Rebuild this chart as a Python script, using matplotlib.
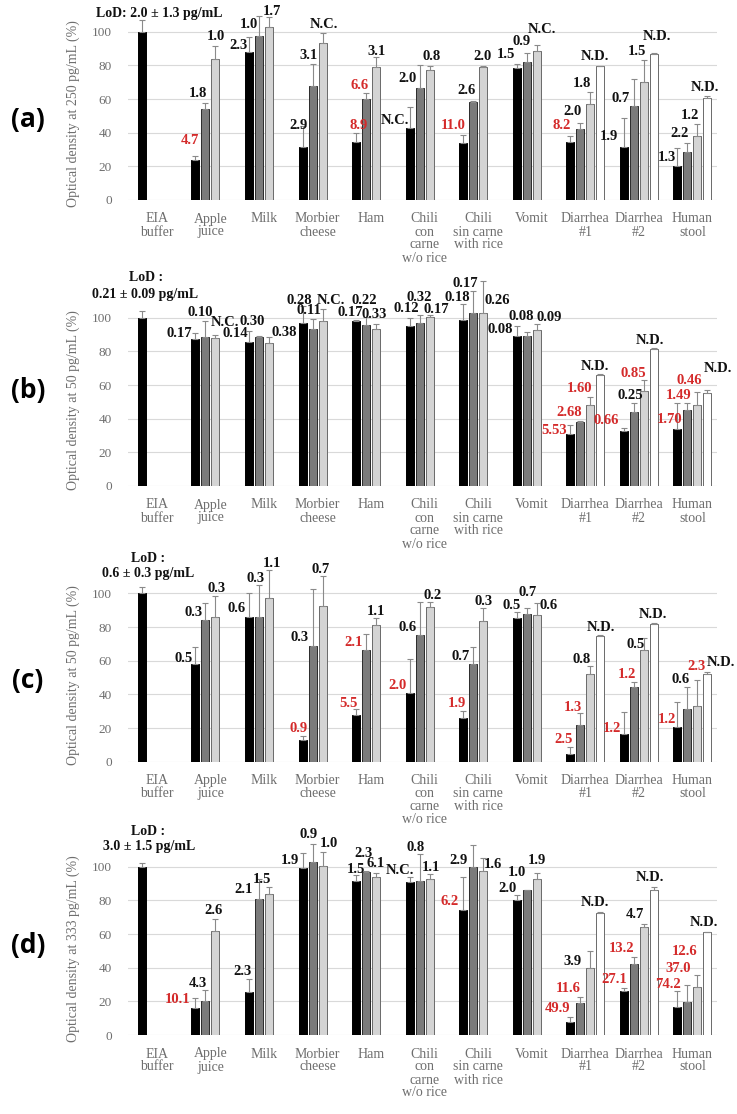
import matplotlib
matplotlib.use('Agg')
import matplotlib.pyplot as plt

W, H = 737, 1114
SERIF = ['Liberation Serif', 'DejaVu Serif']
GREY_TXT = '#6e6e6e'
RED = '#d42a2a'
BLACK = '#111111'

CATEGORIES = ['EIA\nbuffer', 'Apple\njuice', 'Milk', 'Morbier\ncheese', 'Ham',
              'Chili\ncon\ncarne\nw/o rice', 'Chili\nsin carne\nwith rice', 'Vomit',
              'Diarrhea\n#1', 'Diarrhea\n#2', 'Human\nstool']
SERIES_COLORS = ['#000000', '#7b7b7b', '#d4d4d4', '#ffffff']
SERIES_EDGES = ['#000000', '#2a2a2a', '#6a6a6a', '#6a6a6a']

# ---- panel (a): 250 pg/mL ----
A_MEAN = [
    [100, 24, 87.7, 31.7, 34.6, 43, 34, 78.2, 34.7, 31.7, 20.2],
    [None, 54, 97.6, 67.7, 60, 66.7, 58.4, 82.2, 42.2, 55.8, 28.3],
    [None, 84, 102.6, 93.5, 79.2, 77.2, 79.2, 88.5, 56.8, 70.3, 38],
    [None, None, None, None, None, None, None, None, 79.6, 86.7, 60.4],
]
A_ERR = [
    [7, 2, 9.3, 12.3, 5, 12.4, 4.6, 2.8, 3.5, 17.3, 10.8],
    [0, 3.4, 11.9, 13.1, 3.4, 13.3, 0.6, 5.3, 3.8, 15.9, 5.7],
    [0, 7.7, 5.9, 5.9, 5.9, 2.6, 0.3, 3.5, 7.6, 12.9, 7],
    [0, 0, 0, 0, 0, 0, 0, 0, 0.3, 0.4, 1.6],
]
# (category, series, text, red, y, dx)
A_LABELS = [
    (1, 0, '4.7', True, 35.6, -0.1), (1, 1, '1.8', False, 63, -0.14), (1, 2, '1.0', False, 97, 0.0),
    (2, 0, '2.3', False, 92, -0.2), (2, 1, '1.0', False, 104, -0.19), (2, 2, '1.7', False, 112, 0.05),
    (3, 0, '2.9', False, 44, -0.07), (3, 1, '3.1', False, 86, -0.07), (3, 2, 'N.C.', False, 104, 0.02),
    (4, 0, '8.9', True, 44, 0.05), (4, 1, '6.6', True, 68, -0.12), (4, 2, '3.1', False, 88, 0.0),
    (5, 0, 'N.C.', False, 47, -0.28), (5, 1, '2.0', False, 72, -0.22), (5, 2, '0.8', False, 85, 0.04),
    (6, 0, '11.0', True, 44.5, -0.18), (6, 1, '2.6', False, 65, -0.12), (6, 2, '2.0', False, 85, -0.02),
    (7, 0, '1.5', False, 86.5, -0.2), (7, 1, '0.9', False, 94, -0.09), (7, 2, 'N.C.', False, 101.5, 0.09),
    (8, 0, '8.2', True, 44.5, -0.16), (8, 1, '2.0', False, 52.5, -0.15), (8, 2, '1.8', False, 69, -0.15),
    (8, 3, 'N.D.', False, 85, -0.1),
    (9, 0, '1.9', False, 37.6, -0.28), (9, 1, '0.7', False, 60.4, -0.25), (9, 2, '1.5', False, 88, -0.13),
    (9, 3, 'N.D.', False, 97, 0.05),
    (10, 0, '1.3', False, 25, -0.2), (10, 1, '2.2', False, 39.6, -0.15), (10, 2, '1.2', False, 50.5, -0.13),
    (10, 3, 'N.D.', False, 67, -0.04),
]

# ---- panel (b): 50 pg/mL ----
B_MEAN = [
    [100, 87.5, 85.5, 97, 97.8, 94.9, 98.8, 89, 30.8, 32.8, 33.8],
    [None, 88.3, 88.5, 93.5, 95.8, 97, 103, 89, 38.1, 43.7, 45],
    [None, 88, 85, 97.8, 93, 100.4, 103, 92.9, 48.4, 56.3, 48.4],
    [None, None, None, None, None, None, None, None, 66.2, 81.6, 55],
]
B_ERR = [
    [3.8, 3.5, 6.5, 10, 0.6, 4.9, 9.5, 5.9, 5.4, 1.4, 15.6],
    [0, 9.7, 0.6, 5.9, 4.6, 4.8, 12.6, 2.5, 0.6, 5.7, 4.4],
    [0, 1.5, 3.4, 7.2, 3.4, 1.4, 19, 3.3, 4.6, 6.5, 7.6],
    [0, 0, 0, 0, 0, 0, 0, 0, 0.6, 0.6, 2.3],
]
B_LABELS = [
    (1, 0, '0.17', False, 90.5, -0.3), (1, 1, '0.10', False, 103, -0.1), (1, 2, 'N.C.', False, 97, 0.18),
    (2, 0, '0.14', False, 90.5, -0.26), (2, 1, '0.30', False, 97.5, -0.12), (2, 2, '0.38', False, 91.5, 0.29),
    (3, 0, '0.28', False, 110.5, -0.06), (3, 1, '0.11', False, 104, -0.06), (3, 2, 'N.C.', False, 110.5, 0.15),
    (4, 0, '0.17', False, 103, -0.1), (4, 1, '0.22', False, 110.5, -0.03), (4, 2, '0.33', False, 102, -0.03),
    (5, 0, '0.12', False, 105.5, -0.07), (5, 1, '0.32', False, 112, 0.0), (5, 2, '0.17', False, 105, 0.12),
    (6, 0, '0.18', False, 112, -0.11), (6, 1, '0.17', False, 120.5, -0.15), (6, 2, '0.26', False, 110.5, 0.26),
    (7, 0, '0.08', False, 93, -0.31), (7, 1, '0.08', False, 100.5, -0.1), (7, 2, '0.09', False, 100, 0.23),
    (8, 0, '5.53', True, 33, -0.31), (8, 1, '2.68', True, 43.5, -0.21), (8, 2, '1.60', True, 58, -0.21),
    (8, 3, 'N.D.', False, 71, -0.1),
    (9, 0, '0.66', True, 38.7, -0.33), (9, 1, '0.25', False, 53.5, -0.06), (9, 2, '0.85', True, 67, -0.2),
    (9, 3, 'N.D.', False, 86.5, -0.08),
    (10, 0, '1.70', True, 39.5, -0.15), (10, 1, '1.49', True, 54, -0.16), (10, 2, '0.46', True, 62.8, -0.15),
    (10, 3, 'N.D.', False, 69.8, 0.2),
]

# ---- panel (c): 50 pg/mL ----
C_MEAN = [
    [100, 58.3, 86.1, 12.9, 27.8, 40.8, 25.8, 85.1, 4.4, 16.5, 20.9],
    [None, 83.9, 86.1, 68.6, 66.6, 75.5, 58.3, 87.5, 21.9, 44.1, 31.2],
    [None, 86.1, 97.4, 92.8, 81.1, 91.8, 83.5, 86.9, 52.3, 66.2, 32.8],
    [None, None, None, None, None, None, None, None, 74.6, 81.9, 52.1],
]
C_ERR = [
    [4, 9.9, 13.9, 2.4, 3.4, 20.2, 4.6, 3.8, 4.1, 13.3, 14.3],
    [0, 10.5, 18.7, 33.8, 9.5, 19.3, 9.7, 4, 6.9, 3, 13.1],
    [0, 12.3, 16.3, 17.5, 4.4, 3, 8, 7.5, 4.4, 7.4, 15.9],
    [0, 0, 0, 0, 0, 0, 0, 0, 0.5, 0.6, 1.2],
]
C_LABELS = [
    (1, 0, '0.5', False, 61.6, -0.22), (1, 1, '0.3', False, 88.5, -0.22), (1, 2, '0.3', False, 103, 0.02),
    (2, 0, '0.6', False, 90.9, -0.24), (2, 1, '0.3', False, 108.7, -0.07), (2, 2, '1.1', False, 117.8, 0.05),
    (3, 0, '0.9', True, 19.9, -0.07), (3, 1, '0.3', False, 73.6, -0.25), (3, 2, '0.7', False, 114.3, -0.03),
    (4, 0, '5.5', True, 34.8, -0.14), (4, 1, '2.1', True, 70.6, -0.23), (4, 2, '1.1', False, 89.5, 0.0),
    (5, 0, '2.0', True, 45.1, -0.22), (5, 1, '0.6', False, 79.5, -0.23), (5, 2, '0.2', False, 98.8, 0.05),
    (6, 0, '1.9', True, 34.8, -0.11), (6, 1, '0.7', False, 62.6, -0.24), (6, 2, '0.3', False, 95.4, 0.0),
    (7, 0, '0.5', False, 92.8, -0.1), (7, 1, '0.7', False, 100.4, 0.02), (7, 2, '0.6', False, 92.8, 0.22),
    (8, 0, '2.5', True, 12.9, -0.13), (8, 1, '1.3', True, 32.2, -0.14), (8, 2, '0.8', False, 60.6, -0.16),
    (8, 3, 'N.D.', False, 79.5, 0.02),
    (9, 0, '1.2', True, 19.9, -0.22), (9, 1, '1.2', True, 51.7, -0.12), (9, 2, '0.5', False, 69.8, -0.15),
    (9, 3, 'N.D.', False, 87.5, -0.02),
    (10, 0, '1.2', True, 25.2, -0.2), (10, 1, '0.6', False, 48.7, -0.13), (10, 2, '2.3', True, 56.7, -0.01),
    (10, 3, 'N.D.', False, 59.2, 0.26),
]

# ---- panel (d): 333 pg/mL ----
D_MEAN = [
    [100, 15.9, 25.4, 99, 91.8, 91, 74.2, 80.5, 8, 26.2, 16.9],
    [None, 20.3, 81.1, 102.8, 97, 91.8, 100, 85.9, 18.9, 42.1, 19.9],
    [None, 61.6, 83.9, 100.4, 94, 92.8, 97.4, 92.4, 39.8, 64, 28.8],
    [None, None, None, None, None, None, None, None, 72.6, 85.9, 61],
]
D_ERR = [
    [2, 6, 7.8, 9.3, 3.2, 2.8, 19.6, 2.4, 2.5, 1.6, 9.3],
    [0, 6.5, 11.7, 10.9, 0.3, 16, 13, 0.3, 3.4, 4, 9.9],
    [0, 7.4, 4, 8.3, 2.2, 2.6, 8, 4, 9.9, 2.2, 6.6],
    [0, 0, 0, 0, 0, 0, 0, 0, 0.3, 2, 0.4],
]
D_LABELS = [
    (1, 0, '10.1', True, 20.9, -0.34), (1, 1, '4.3', False, 30.8, -0.15), (1, 2, '2.6', False, 73.8, -0.03),
    (2, 0, '2.3', False, 37.6, -0.13), (2, 1, '2.1', False, 86.5, -0.28), (2, 2, '1.5', False, 92.4, -0.13),
    (3, 0, '1.9', False, 103.8, -0.24), (3, 1, '0.9', False, 119.3, -0.08), (3, 2, '1.0', False, 113.7, 0.12),
    (4, 0, '1.5', False, 98.4, 0.0), (4, 1, '2.3', False, 107.8, -0.05), (4, 2, '6.1', False, 101.8, 0.0),
    (5, 0, 'N.C.', False, 98, -0.19), (5, 1, '0.8', False, 111.4, -0.07), (5, 2, '1.1', False, 99.4, 0.02),
    (6, 0, '6.2', True, 79.5, -0.25), (6, 1, '2.9', False, 103.8, -0.27), (6, 2, '1.6', False, 101.4, 0.19),
    (7, 0, '2.0', False, 87.1, -0.18), (7, 1, '1.0', False, 96.4, -0.18), (7, 2, '1.9', False, 103.8, 0.0),
    (8, 0, '49.9', True, 15.5, -0.23), (8, 1, '11.6', True, 27.4, -0.23), (8, 2, '3.9', False, 43.7, -0.34),
    (8, 3, 'N.D.', False, 78.5, -0.11),
    (9, 0, '27.1', True, 32.8, -0.18), (9, 1, '13.2', True, 51.3, -0.23), (9, 2, '4.7', False, 71.6, -0.16),
    (9, 3, 'N.D.', False, 93.4, -0.08),
    (10, 0, '74.2', True, 30, -0.18), (10, 1, '37.0', True, 39.4, -0.18), (10, 2, '12.6', True, 49.7, -0.23),
    (10, 3, 'N.D.', False, 67, -0.06),
]

PANELS = [
    ('(a)', 'Optical density at 250 pg/mL (%)', A_MEAN, A_ERR, A_LABELS,
     [('LoD: 2.0 \u00b1 1.3 pg/mL', 0.04, 111)], 200, 48),
    ('(b)', 'Optical density at 50 pg/mL (%)', B_MEAN, B_ERR, B_LABELS,
     [('LoD :', -0.2, 124), ('0.21 \u00b1 0.09 pg/mL', -0.22, 114)], 486, 57),
    ('(c)', 'Optical density at 50 pg/mL (%)', C_MEAN, C_ERR, C_LABELS,
     [('LoD :', -0.17, 121), ('0.6 \u00b1 0.3 pg/mL', -0.17, 111.7)], 761.7, 48),
    ('(d)', 'Optical density at 333 pg/mL (%)', D_MEAN, D_ERR, D_LABELS,
     [('LoD :', -0.17, 121), ('3.0 \u00b1 1.5 pg/mL', -0.15, 112)], 1035, 53),
]

SLOT = 0.187
BAR_W = 0.15
PX_PER_UNIT = 1.683
AX_LEFT, AX_WIDTH = 128, 589
YMAX = 125


def draw_panel(fig, tag, ylabel, means, errs, labels, lod, y0, tag_y):
    height = YMAX * PX_PER_UNIT
    ax = fig.add_axes([AX_LEFT / W, 1 - y0 / H, AX_WIDTH / W, height / H])
    ax.patch.set_alpha(0)

    for s, (vals, ers) in enumerate(zip(means, errs)):
        xs, ys, es = [], [], []
        for i, (v, e) in enumerate(zip(vals, ers)):
            if v is None:
                continue
            xs.append(i + (s - 1.5) * SLOT)
            ys.append(v)
            es.append(e)
        ax.bar(xs, ys, width=BAR_W, color=SERIES_COLORS[s], edgecolor=SERIES_EDGES[s],
               linewidth=0.7, zorder=3)
        ax.errorbar(xs, ys, yerr=[[0] * len(es), es], fmt='none', ecolor='#8a8a8a',
                    elinewidth=0.8, capsize=2.5, capthick=0.8, zorder=4)

    # value labels above/next to the bars
    for cat, s, text, red, y, dx in labels:
        x = cat + (s - 1.5) * SLOT + dx
        ax.text(x, y, text, ha='center', va='center', fontsize=10.5, fontweight='bold',
                family=SERIF, color=RED if red else BLACK, zorder=5)

    for text, x, y in lod:
        ax.text(x, y, text, ha='center', va='center', fontsize=10, fontweight='bold',
                family=SERIF, color=BLACK)

    ax.text(-0.17, tag_y, tag, transform=ax.get_yaxis_transform(), ha='center',
            va='center', fontsize=19, fontweight='bold', family=['Open Sans', 'DejaVu Sans'])

    ax.set_xlim(-0.54, 10.46)
    ax.set_ylim(0, YMAX)
    ax.set_yticks([0, 20, 40, 60, 80, 100])
    ax.set_xticks(range(len(CATEGORIES)))
    ax.set_xticklabels(CATEGORIES, fontsize=10, family=SERIF, color=GREY_TXT,
                       linespacing=1.0)
    for lab in ax.get_yticklabels():
        lab.set_family(SERIF)
    ax.tick_params(axis='y', length=0, pad=11.5, labelsize=9.5, labelcolor=GREY_TXT)
    ax.tick_params(axis='x', length=0, pad=9)
    ax.grid(True, axis='y', color='#d9d9d9', linewidth=0.8, zorder=0)
    ax.set_axisbelow(True)
    for sp in ax.spines.values():
        sp.set_visible(False)
    ax.set_ylabel(ylabel, fontsize=10, family=SERIF, color=GREY_TXT)
    ax.yaxis.set_label_coords(-0.0815, 0.41)
    return ax


def main():
    fig = plt.figure(figsize=(W / 100, H / 100), dpi=100)
    for tag, ylabel, means, errs, labels, lod, y0, tag_y in PANELS:
        draw_panel(fig, tag, ylabel, means, errs, labels, lod, y0, tag_y)
    fig.savefig('out.png', dpi=100)
    plt.close(fig)


if __name__ == '__main__':
    main()
